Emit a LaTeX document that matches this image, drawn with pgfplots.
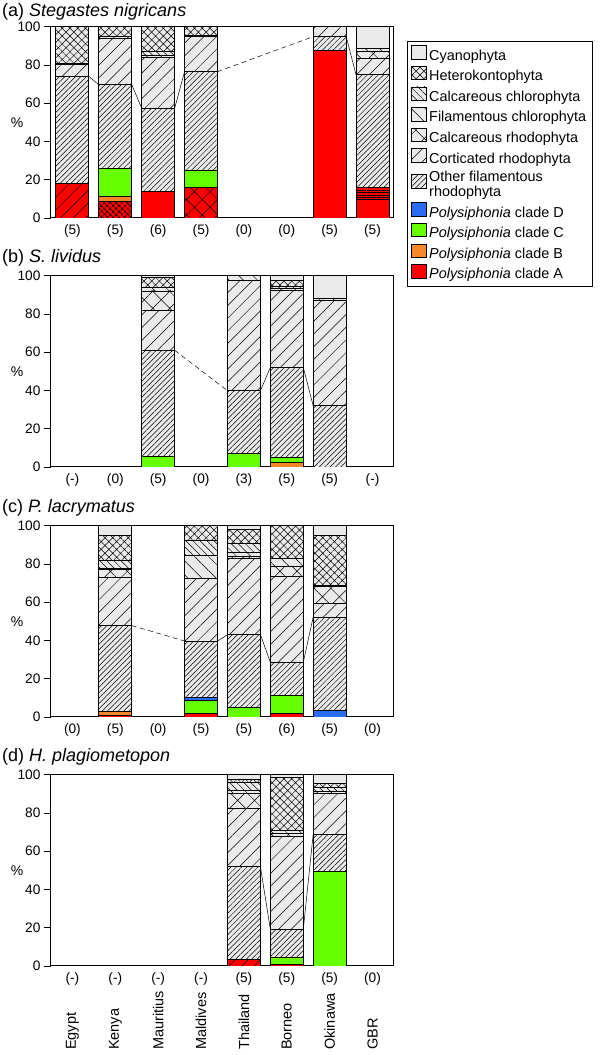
\documentclass[border=0pt]{standalone}
\usepackage{fontspec}
\setmainfont{Liberation Sans}
\setsansfont{Liberation Sans}
\usepackage{pgfplots}
\pgfplotsset{compat=1.18}
\usepackage{pgfplotstable}
\usetikzlibrary{patterns.meta}

\definecolor{cA}{HTML}{FF0000}
\definecolor{cB}{HTML}{F7882A}
\definecolor{cC}{HTML}{66FF00}
\definecolor{cD}{HTML}{2B6CF5}
\definecolor{lgray}{HTML}{EAEAEA}

\pgfplotsset{
 bb/.style={draw=black, line width=0.9pt},
 sAp/.style={bb, fill=cA},
 sAn/.style={bb, fill=cA, postaction={pattern={Lines[angle=45,distance=9pt,line width=0.5pt]}, pattern color=black}},
 sAh/.style={bb, fill=cA, postaction={pattern={Hatch[angle=45,distance=4pt,line width=0.5pt]}, pattern color=black}},
 sAs/.style={bb, fill=cA, postaction={pattern={Hatch[angle=45,distance=11pt,line width=0.5pt]}, pattern color=black}},
 sAl/.style={bb, fill=cA, postaction={pattern={Lines[angle=0,distance=2.5pt,line width=0.5pt]}, pattern color=black}},
 sB/.style={bb, fill=cB},
 sC/.style={bb, fill=cC},
 sD/.style={bb, fill=cD},
 sOFR/.style={bb, fill=lgray, postaction={pattern={Lines[angle=45,distance=3.8pt,line width=0.5pt]}, pattern color=black}},
 sCort/.style={bb, fill=lgray, postaction={pattern={Lines[angle=45,distance=9pt,line width=0.5pt]}, pattern color=black}},
 sCR/.style={bb, fill=lgray, postaction={pattern={Hatch[angle=45,distance=12pt,line width=0.5pt]}, pattern color=black}},
 sFC/.style={bb, fill=lgray, postaction={pattern={Lines[angle=-45,distance=10pt,line width=0.5pt]}, pattern color=black}},
 sCC/.style={bb, fill=lgray, postaction={pattern={Lines[angle=-45,distance=5pt,line width=0.5pt]}, pattern color=black}},
 sHet/.style={bb, fill=lgray, postaction={pattern={Hatch[angle=45,distance=5.5pt,line width=0.5pt]}, pattern color=black}},
 sCy/.style={bb, fill=lgray},
 panel/.style={scale only axis, width=343pt, height=191.3pt, xmin=-0.5, xmax=7.5, ymin=0, ymax=100,
   anchor=south west, ybar stacked, bar width=33pt,
   ytick={0,20,40,60,80,100}, xtick={0,...,7}, xtick style={draw=none},
   ytick pos=left, xtick pos=left, tick align=outside, major tick length=7pt,
   ytick style={line width=0.8pt, black}, axis line style={line width=1pt},
   tick label style={font=\fontsize{13.7}{15}\selectfont},
   xticklabel style={yshift=3.5pt},
   /pgf/number format/assume math mode=true,
   ylabel={\%},
   every axis y label/.style={at={(rel axis cs:0,0.5)}, anchor=center, xshift=-34pt, font=\fontsize{14}{16}\selectfont}},
 overlay/.style={scale only axis, width=343pt, height=191.3pt, xmin=-0.5, xmax=7.5, ymin=0, ymax=100,
   anchor=south west, hide axis},
 seg/.style={black, line width=0.5pt, no markers},
 dseg/.style={seg, dash pattern=on 5pt off 3.5pt},
}

\newcommand{\drawbars}[1]{%
\addplot[sAp] table[x=x,y=Ap]{#1};
\addplot[sAn] table[x=x,y=An]{#1};
\addplot[sAh] table[x=x,y=Ah]{#1};
\addplot[sAs] table[x=x,y=As]{#1};
\addplot[sAl] table[x=x,y=Al]{#1};
\addplot[sB] table[x=x,y=B]{#1};
\addplot[sC] table[x=x,y=C]{#1};
\addplot[sD] table[x=x,y=D]{#1};
\addplot[sOFR] table[x=x,y=OFR]{#1};
\addplot[sCort] table[x=x,y=Cort]{#1};
\addplot[sCR] table[x=x,y=CR]{#1};
\addplot[sFC] table[x=x,y=FC]{#1};
\addplot[sCC] table[x=x,y=CC]{#1};
\addplot[sHet] table[x=x,y=Het]{#1};
\addplot[sCy] table[x=x,y=Cy]{#1};
}

% columns: A plain, A NE-lines, A dense hatch, A sparse hatch, A horizontal lines,
% clade B, C, D, other filamentous rhodo, corticated rhodo, calcareous rhodo,
% filamentous chloro, calcareous chloro, heterokontophyta, cyanophyta
\pgfplotstableread{
x Ap An Ah As Al B C D OFR Cort CR FC CC Het Cy
0 0 18 0 0 0 0 0 0 56 6 0 1 0 19 0
1 0 0 8.5 0 0 2.5 14.7 0 43.9 24.3 0 1 0 5.1 0
2 14 0 0 0 0 0 0 0 43.4 26.6 0 1 2 13 0
3 0 0 0 16.2 0 0 8.7 0 51.6 18.3 0 0.7 0 4.5 0
4 0 0 0 0 0 0 0 0 0 0 0 0 0 0 0
5 0 0 0 0 0 0 0 0 0 0 0 0 0 0 0
6 87.5 0 0 0 0 0 0 0 7.3 5.2 0 0 0 0 0
7 9.5 0 0 0 6.5 0 0 0 58.8 8.7 3.4 1.8 0 0 11.3
}\tA

\pgfplotstableread{
x Ap An Ah As Al B C D OFR Cort CR FC CC Het Cy
0 0 0 0 0 0 0 0 0 0 0 0 0 0 0 0
1 0 0 0 0 0 0 0 0 0 0 0 0 0 0 0
2 0 0 0 0 0 0 5.5 0 55.5 20.8 10.2 2 0 5 1
3 0 0 0 0 0 0 0 0 0 0 0 0 0 0 0
4 0 0 0 0 0 0 7.3 0 32.6 57.8 0 2.3 0 0 0
5 0 0 0 0 0 2.4 2.8 0 46.8 40.5 0 1 1 3 2.5
6 0 0 0 0 0 0 0 0 32 55.3 0 0.7 0 0 12
7 0 0 0 0 0 0 0 0 0 0 0 0 0 0 0
}\tB

\pgfplotstableread{
x Ap An Ah As Al B C D OFR Cort CR FC CC Het Cy
0 0 0 0 0 0 0 0 0 0 0 0 0 0 0 0
1 1 0 0 0 0 2 0 0 44.8 25.2 3.9 0.6 4.2 13.3 5
2 0 0 0 0 0 0 0 0 0 0 0 0 0 0 0
3 1.7 0 0 0 0 0 7 1.4 29.6 32.8 0 12 7.7 7.8 0
4 0 0 0 0 0 0 4.9 0 38.1 40 0.8 2.2 4.8 7.2 2
5 1.7 0 0 0 0 0 9.6 0 17.4 44.7 5.2 4.5 0 16.9 0
6 0 0 0 0 0 0 0 3.5 48.7 6.9 8.9 0.7 0 26.3 5
7 0 0 0 0 0 0 0 0 0 0 0 0 0 0 0
}\tC

\pgfplotstableread{
x Ap An Ah As Al B C D OFR Cort CR FC CC Het Cy
0 0 0 0 0 0 0 0 0 0 0 0 0 0 0 0
1 0 0 0 0 0 0 0 0 0 0 0 0 0 0 0
2 0 0 0 0 0 0 0 0 0 0 0 0 0 0 0
3 0 0 0 0 0 0 0 0 0 0 0 0 0 0 0
4 0 3.5 0 0 0 0 0 0 48.3 30.5 8.1 1.4 4.4 1.2 2.6
5 1 0 0 0 0 0 3.5 0 14.8 48.5 1.4 1.4 0 27.8 1.6
6 0 0 0 0 0 0 49.2 0 19.7 21.5 0 0.9 2.2 2.1 4.4
7 0 0 0 0 0 0 0 0 0 0 0 0 0 0 0
}\tD

\begin{document}
\begin{tikzpicture}
\useasboundingbox (0,0) rectangle (600pt,1055pt);

% ---------- panel (a)
\node[anchor=west, inner sep=0, font=\fontsize{18}{20}\selectfont] at (2pt,1043pt) {(a) \textit{Stegastes nigricans}};
\begin{axis}[panel, at={(51pt,837pt)}, xticklabels={{(5)},{(5)},{(6)},{(5)},{(0)},{(0)},{(5)},{(5)}}]
\drawbars{\tA}
\end{axis}
\begin{axis}[overlay, at={(51pt,837pt)}]
\addplot[seg] coordinates {(0.385,74) (0.615,69.6)};
\addplot[seg] coordinates {(1.385,69.6) (1.615,57.4)};
\addplot[seg] coordinates {(2.385,57.4) (2.615,76.5)};
\addplot[dseg] coordinates {(3.385,76.5) (5.615,94.8)};
\addplot[seg] coordinates {(6.385,94.8) (6.615,74.8)};
\end{axis}

% ---------- panel (b)
\node[anchor=west, inner sep=0, font=\fontsize{18}{20}\selectfont] at (2pt,797pt) {(b) \textit{S. lividus}};
\begin{axis}[panel, at={(51pt,588pt)}, xticklabels={{(-)},{(0)},{(5)},{(0)},{(3)},{(5)},{(5)},{(-)}}]
\drawbars{\tB}
\end{axis}
\begin{axis}[overlay, at={(51pt,588pt)}]
\addplot[dseg] coordinates {(2.385,61) (3.615,39.9)};
\addplot[seg] coordinates {(4.385,39.9) (4.615,52)};
\addplot[seg] coordinates {(5.385,52) (5.615,32)};
\end{axis}

% ---------- panel (c)
\node[anchor=west, inner sep=0, font=\fontsize{18}{20}\selectfont] at (2pt,547pt) {(c) \textit{P. lacrymatus}};
\begin{axis}[panel, at={(51pt,338pt)}, xticklabels={{(0)},{(5)},{(0)},{(5)},{(5)},{(6)},{(5)},{(0)}}]
\drawbars{\tC}
\end{axis}
\begin{axis}[overlay, at={(51pt,338pt)}]
\addplot[dseg] coordinates {(1.385,47.8) (2.615,39.7)};
\addplot[seg] coordinates {(3.385,39.7) (3.615,43)};
\addplot[seg] coordinates {(4.385,43) (4.615,28.7)};
\addplot[seg] coordinates {(5.385,28.7) (5.615,52.2)};
\end{axis}

% ---------- panel (d)
\node[anchor=west, inner sep=0, font=\fontsize{18}{20}\selectfont] at (2pt,298pt) {(d) \textit{H. plagiometopon}};
\begin{axis}[panel, at={(51pt,89pt)}, xticklabels={{(-)},{(-)},{(-)},{(-)},{(5)},{(5)},{(5)},{(0)}}]
\drawbars{\tD}
\end{axis}
\begin{axis}[overlay, at={(51pt,89pt)}]
\addplot[seg] coordinates {(4.385,51.8) (4.615,19.3)};
\addplot[seg] coordinates {(5.385,19.3) (5.615,68.9)};
\end{axis}

% ---------- site names
\foreach \nm [count=\i from 0] in {Egypt,Kenya,Mauritius,Maldives,Thailand,Borneo,Okinawa,GBR} {
  \node[rotate=90, anchor=west, inner sep=0, font=\fontsize{14.5}{16}\selectfont] at ({51pt+42.875pt*(\i+0.5)},5pt) {\nm};
}

% ---------- legend
\begin{axis}[at={(407pt,1014pt)}, anchor=north west, hide axis, scale only axis,
  width=10pt, height=10pt, xmin=0, xmax=1, ymin=0, ymax=1,
  legend image code/.code={\draw[#1, line width=0.8pt] (0pt,-3.5pt) rectangle (15pt,10pt);},
  legend cell align=left,
  legend style={at={(0,1)}, anchor=north west, draw=black, line width=0.8pt,
    font=\fontsize{14.4}{15.5}\selectfont, cells={anchor=west, align=left},
    row sep=2.2pt, inner xsep=4pt, inner ysep=4pt}]
\addlegendimage{sCy}\addlegendentry{Cyanophyta}
\addlegendimage{sHet}\addlegendentry{Heterokontophyta}
\addlegendimage{sCC}\addlegendentry{Calcareous chlorophyta}
\addlegendimage{sFC}\addlegendentry{Filamentous chlorophyta}
\addlegendimage{sCR}\addlegendentry{Calcareous rhodophyta}
\addlegendimage{sCort}\addlegendentry{Corticated rhodophyta}
\addlegendimage{sOFR}\addlegendentry{Other filamentous\\rhodophyta}
\addlegendimage{sD}\addlegendentry{\textit{Polysiphonia} clade D}
\addlegendimage{sC}\addlegendentry{\textit{Polysiphonia} clade C}
\addlegendimage{sB}\addlegendentry{\textit{Polysiphonia} clade B}
\addlegendimage{sAp}\addlegendentry{\textit{Polysiphonia} clade A}
\end{axis}
\end{tikzpicture}
\end{document}
